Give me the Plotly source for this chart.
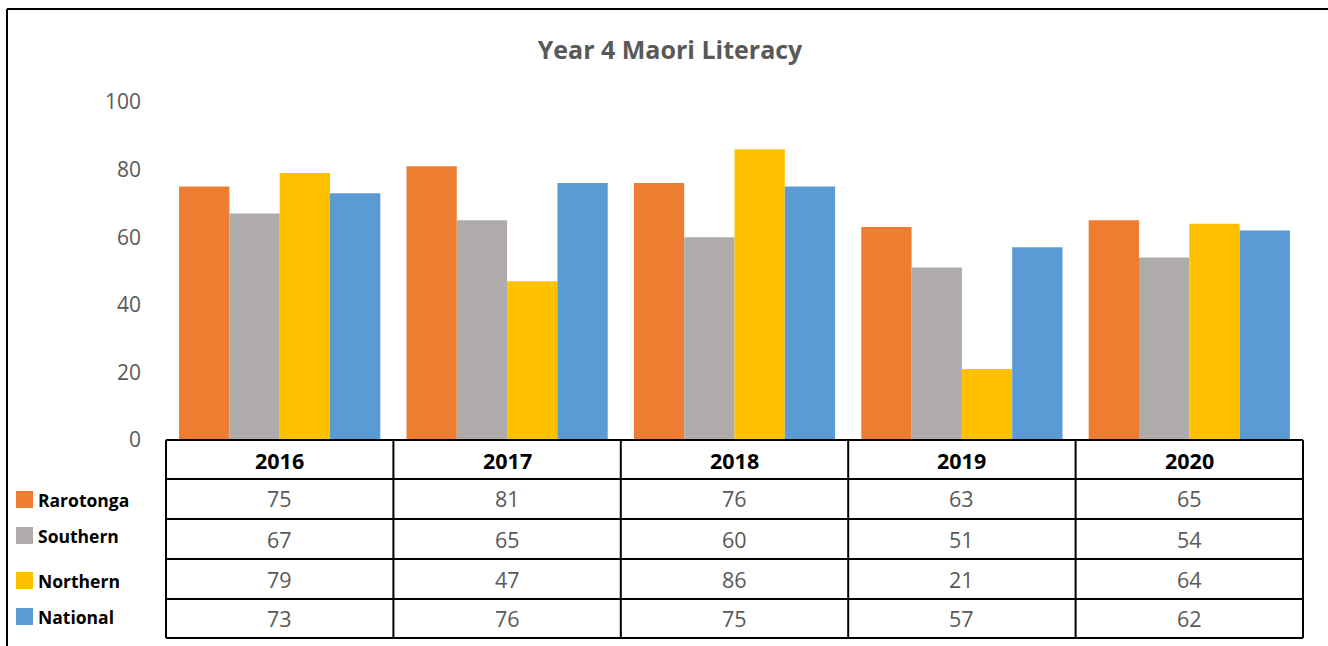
import plotly.graph_objects as go

years = ["2016", "2017", "2018", "2019", "2020"]
series_names = ["Rarotonga", "Southern", "Northern", "National"]
rarotonga = [75, 81, 76, 63, 65]
southern = [67, 65, 60, 51, 54]
northern = [79, 47, 86, 21, 64]
national = [73, 76, 75, 57, 62]
colors = ["#ED7D31", "#AFABAB", "#FFC000", "#5B9BD5"]
y_ticks = [0, 20, 40, 60, 80, 100]

series_values = [rarotonga, southern, northern, national]

W, H = 1328, 646
L, R, T, B = 166, 25, 102, 206
plot_w = W - L - R
plot_h = H - T - B

def py(p):
    return (H - B - p) / plot_h

def px(p):
    return (p - L) / plot_w

FONT = "Open Sans"

fig = go.Figure()
for name, vals, col in zip(series_names, series_values, colors):
    fig.add_trace(go.Bar(x=years, y=vals, name=name, marker=dict(color=col, line=dict(width=0))))

shapes = []
annotations = []

# table grid
row_edges = [440, 479, 519, 559, 599, 638]
n = len(years)
for e in row_edges:
    shapes.append(dict(type="line", xref="paper", yref="paper", x0=0, x1=1, y0=py(e), y1=py(e),
                       line=dict(color="black", width=2)))
for i in range(n + 1):
    shapes.append(dict(type="line", xref="paper", yref="paper", x0=i / n, x1=i / n,
                       y0=py(row_edges[0]), y1=py(row_edges[-1]), line=dict(color="black", width=2)))

def col_center(i):
    return (i + 0.5) / n

# header
for i, yr in enumerate(years):
    annotations.append(dict(x=col_center(i), xref="paper", y=py((row_edges[0] + row_edges[1]) / 2 + 1),
                            yref="paper", text="<b>%s</b>" % yr, showarrow=False,
                            font=dict(family=FONT, size=21.5, color="black"),
                            xanchor="center", yanchor="middle"))
# values
for r, vals in enumerate(series_values):
    yc = py((row_edges[r + 1] + row_edges[r + 2]) / 2)
    for i, v in enumerate(vals):
        annotations.append(dict(x=col_center(i), xref="paper", y=yc, yref="paper", text=str(v),
                                showarrow=False, font=dict(family=FONT, size=21.5, color="#595959"),
                                xanchor="center", yanchor="middle"))

# legend keys
key_centers = [499.5, 535.5, 580.5, 616.5]
for name, col, c in zip(series_names, colors, key_centers):
    shapes.append(dict(type="rect", xref="paper", yref="paper", x0=px(16), x1=px(33),
                       y0=py(c + 8.5), y1=py(c - 8.5), fillcolor=col, line=dict(width=0)))
    annotations.append(dict(x=px(36), xref="paper", y=py(c), yref="paper", text="<b>%s</b>" % name,
                            showarrow=False, font=dict(family=FONT, size=17.5, color="black"),
                            xanchor="left", yanchor="middle"))

# outer frame (top and left edges)
shapes.append(dict(type="line", xref="paper", yref="paper", x0=px(7), x1=px(1340), y0=py(9), y1=py(9),
                   line=dict(color="black", width=2)))
shapes.append(dict(type="line", xref="paper", yref="paper", x0=px(7), x1=px(7), y0=py(9), y1=py(660),
                   line=dict(color="black", width=2)))

fig.update_layout(
    width=W, height=H,
    margin=dict(l=L, r=R, t=T, b=B, pad=0),
    paper_bgcolor="white", plot_bgcolor="white",
    barmode="group", bargap=0.115, bargroupgap=0,
    showlegend=False,
    title=dict(text="<b>Year 4 Maori Literacy</b>", x=670 / W, xanchor="center",
               y=1 - 50 / H, yanchor="middle",
               font=dict(family=FONT, size=25, color="#595959")),
    shapes=shapes, annotations=annotations,
)
fig.update_xaxes(type="category", range=[-0.5, n - 0.5], showticklabels=False, showgrid=False,
                 zeroline=False, showline=False, ticks="")
fig.update_yaxes(range=[0, 100], tickvals=y_ticks, showgrid=False, zeroline=False, showline=False,
                 ticks="", ticklabelstandoff=24,
                 tickfont=dict(family=FONT, size=21, color="#595959"))

fig.write_html("out.html", config={"displayModeBar": False},
               post_script="document.body.style.margin='0px';")
